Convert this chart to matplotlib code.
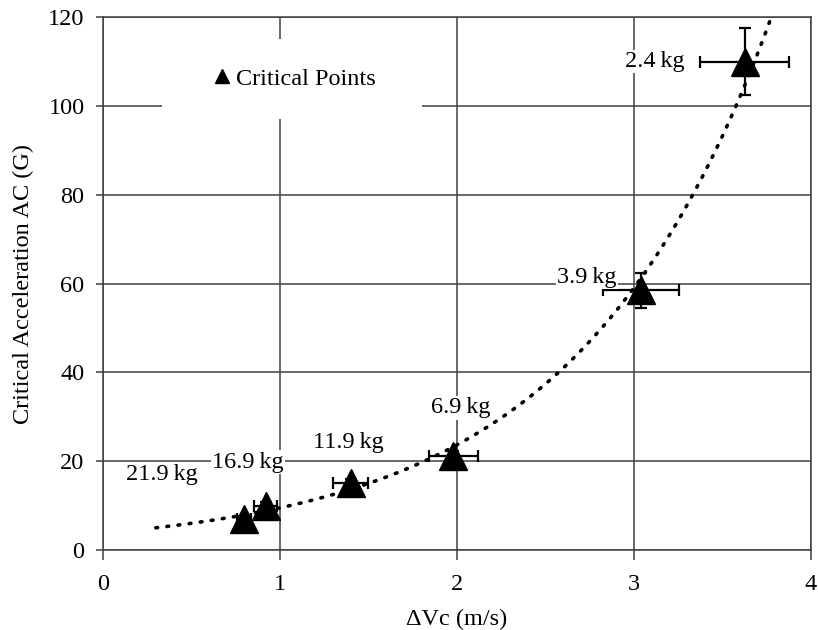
import matplotlib
matplotlib.use('Agg')
import matplotlib.pyplot as plt
from matplotlib.lines import Line2D
from matplotlib.patches import Rectangle
import numpy as np

plt.rcParams['font.family'] = ['Liberation Serif', 'DejaVu Serif']

# critical points
masses = ['21.9\u2009kg', '16.9\u2009kg', '11.9\u2009kg', '6.9\u2009kg', '3.9\u2009kg', '2.4\u2009kg']
dvc = np.array([0.80, 0.92, 1.40, 1.98, 3.04, 3.625])
acc = np.array([7.0, 9.9, 15.0, 21.2, 58.5, 110.0])
dvc_err = np.array([0.04, 0.065, 0.10, 0.14, 0.215, 0.25])
acc_err = np.array([0.6, 0.8, 0.9, 1.0, 4.0, 7.6])

# label offsets in pixels from each point
label_dx = [-82, -18, -2, 7, -54, -90]
label_dy = [44, 44, 41, 48, 13, 0]

FS = 17.5
grid_col = '#404040'

fig = plt.figure(figsize=(8.18, 6.3), dpi=100)
ax = fig.add_axes([0.1255, 0.127, 0.866, 0.8455])

# exponential trendline, least squares on log(y)
b, ln_a = np.polyfit(dvc, np.log(acc), 1)
xs = np.linspace(dvc[0] - 0.5, dvc[-1] + 0.5, 300)
ax.plot(xs, np.exp(ln_a) * np.exp(b * xs), ls=(0, (0.5, 2.6)), lw=2.6,
        color='black', dash_capstyle='round', zorder=3)

ax.errorbar(dvc, acc, xerr=dvc_err, yerr=acc_err, fmt='none', ecolor='black',
            elinewidth=1.6, capsize=4, capthick=1.6, zorder=4)
ax.plot(dvc, acc, '^', color='black', markersize=20.5, zorder=5)

for m, x, y, dx, dy in zip(masses, dvc, acc, label_dx, label_dy):
    ax.annotate(m, (x, y), xytext=(dx, dy), textcoords='offset pixels',
                ha='center', va='center', fontsize=FS, zorder=6,
                bbox=dict(boxstyle='square,pad=0.05', fc='white', ec='none'))

ax.set_xlim(0, 4)
ax.set_ylim(0, 120)
ax.set_xticks([0, 1, 2, 3, 4])
ax.set_yticks(np.arange(0, 121, 20))
ax.grid(True, color=grid_col, lw=1.1)
ax.set_axisbelow(True)
for s in ax.spines.values():
    s.set_color(grid_col)
    s.set_linewidth(1.1)
ax.tick_params(axis='both', direction='out', color=grid_col, width=1.1,
               labelsize=FS)
ax.tick_params(axis='y', length=5, pad=8)
ax.tick_params(axis='x', length=7, pad=10)

ax.set_xlabel('ΔVc (m/s)', fontsize=FS, labelpad=10)
ax.set_ylabel('Critical Acceleration AC (G)', fontsize=FS, labelpad=10)

# white legend area
ax.add_patch(Rectangle((0.0835, 0.810), 0.368, 0.149, transform=ax.transAxes,
                       fc='white', ec='none', zorder=2))
handle = Line2D([], [], marker='^', ls='none', color='black', markersize=10.5)
ax.legend([handle], ['Critical Points'], loc='center', bbox_to_anchor=(0.272, 0.885),
          frameon=False, fontsize=FS, handlelength=0.6, handletextpad=0.25)

fig.savefig('out.png', dpi=100)
